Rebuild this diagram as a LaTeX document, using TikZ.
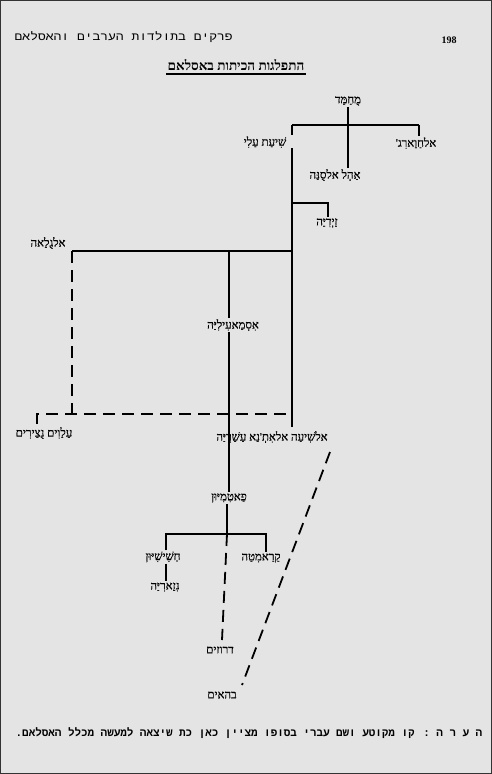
\documentclass[tikz,border=0pt]{standalone}
\usepackage{fontspec}
\setmainfont{Liberation Serif}
\newfontfamily\heb[Script=Hebrew, FakeBold=0.5]{Liberation Serif}
\newfontfamily\hebtitle[Script=Hebrew]{Liberation Serif}
\newfontfamily\hebmono[Script=Hebrew]{Liberation Mono}
\TeXXeTstate=1
\newcommand{\rl}[1]{\beginR #1\endR}
\definecolor{paper}{RGB}{228,228,228}
\tikzset{
  lab/.style={font=\heb\fontsize{11.5}{12}\selectfont, inner sep=1pt},
  ln/.style={line width=1.8pt, black},
  dsh/.style={ln, dash pattern=on 12pt off 7pt},
}
\begin{document}
\begin{tikzpicture}[x=1pt,y=-1pt]
\useasboundingbox (0,0) rectangle (492,774);
\fill[paper] (0,0) rectangle (492,774);
\draw[line width=1pt, black!80] (0.5,0.5) rectangle (491.5,773.5);

% header
\node[font=\hebmono\fontsize{11}{12}\selectfont, anchor=east, inner sep=0pt] (hdr) at (233,37) {\scalebox{1.18}[1]{\rl{פרקים בתולדות הערבים והאסלאם}}};
\node[font=\bfseries\fontsize{10}{11}\selectfont, inner sep=0pt] (pg) at (449,40) {198};
\node[font=\hebtitle\bfseries\fontsize{13.5}{14}\selectfont, inner sep=1pt] (title) at (236,65) {\rl{התפלגות הכיתות באסלאם}};
\draw[line width=1.9pt] ([yshift=-2pt]title.south west) -- ([yshift=-2pt]title.south east);

% labels
\node[lab] (muh) at (348,101) {\rl{מֻחַמַּד}};
\node[lab] (shia) at (265,142) {\rl{שִׁיעַת עַלִי}};
\node[lab] (khaw) at (416,143) {\rl{אלחַוַארִג'}};
\node[lab] (sunna) at (335,175) {\rl{אַהְל אלסֻנַּה}};
\node[lab] (zaydi) at (327,223) {\rl{זַיְדִיַּה}};
\node[lab] (ghulat) at (48,243) {\rl{אלגֻלַאה}};
\node[lab] (ism) at (233,325) {\rl{אִסְמַאעִילִיַּה}};
\node[lab] (alawi) at (44,433) {\rl{עַלַוִים נֻצַירִים}};
\node[lab] (ithna) at (272,437) {\rl{אלשִׁיעַה אלאִתְ'נַא עַשַׁרִיַּה}};
\node[lab] (fatimi) at (229,498) {\rl{פַאטִמִיּוּן}};
\node[lab] (hash) at (163,557) {\rl{חַשִׁישִׁיּוּן}};
\node[lab] (qaram) at (261,558) {\rl{קַרַאמִטַה}};
\node[lab] (nizar) at (165,587) {\rl{נִזַארִיַּה}};
\node[lab] (druze) at (220,650) {\rl{דרוזים}};
\node[lab] (bahai) at (222,695) {\rl{בהאים}};

% junctions
\coordinate (b1L) at (292,125);
\coordinate (b1R) at (419,125);
\coordinate (trTop) at (292,148);
\coordinate (trBot) at (292,427);
\coordinate (zj) at (292,203);
\coordinate (zc) at (328,203);
\coordinate (gj) at (292,251);
\coordinate (gc) at (72,251);
\coordinate (ij) at (229,251);
\coordinate (dj) at (72,414);
\coordinate (dL) at (37,414);
\coordinate (dLb) at (37,424);
\coordinate (dR) at (292,414);
\coordinate (fj) at (227,534);
\coordinate (fL) at (166,534);
\coordinate (fR) at (266,534);
\coordinate (dz) at (222,640);
\coordinate (diagA) at (330,452);
\coordinate (diagB) at (242,685);

% top level
\draw[ln] (muh.south) -- (muh.south |- sunna.north);
\draw[ln] (b1L) -- (b1R);
\draw[ln] (b1L) -- ++(0,10);
\draw[ln] (b1R) -- (b1R |- khaw.north);
\draw[ln] (trTop) -- (trBot);
% zaydi
\draw[ln] (zj) -- (zc) -- (zc |- zaydi.north);
% ghulat + ismaili
\draw[ln] (gj) -- (gc);
\draw[ln] (ij) -- (ij |- ism.north);
\draw[dsh] (gc) -- (dj);
\draw[ln] (ism.south -| ij) -- (ij |- fatimi.north);
% dashed split to alawi
\draw[dsh] (dLb) -- (dL) -- (dR);
% fatimi split
\draw[ln] (fatimi.south -| fj) -- (fj);
\draw[ln] (fL |- hash.north) -- (fL) -- (fR) -- (fR |- qaram.north);
\draw[ln] (hash.south -| fL) -- (fL |- nizar.north);
\draw[dsh] (fj) -- (dz);
% bahai
\draw[dsh] (diagA) -- (diagB);

% footnote
\node[font=\hebmono\bfseries\fontsize{10.9}{12}\selectfont, inner sep=0pt] (note) at (249,733) {\rl{ה ע ר ה :  קו מקוטע ושם עברי בסופו מציין כאן כת שיצאה למעשה מכלל האסלאם.}};
\end{tikzpicture}
\end{document}
